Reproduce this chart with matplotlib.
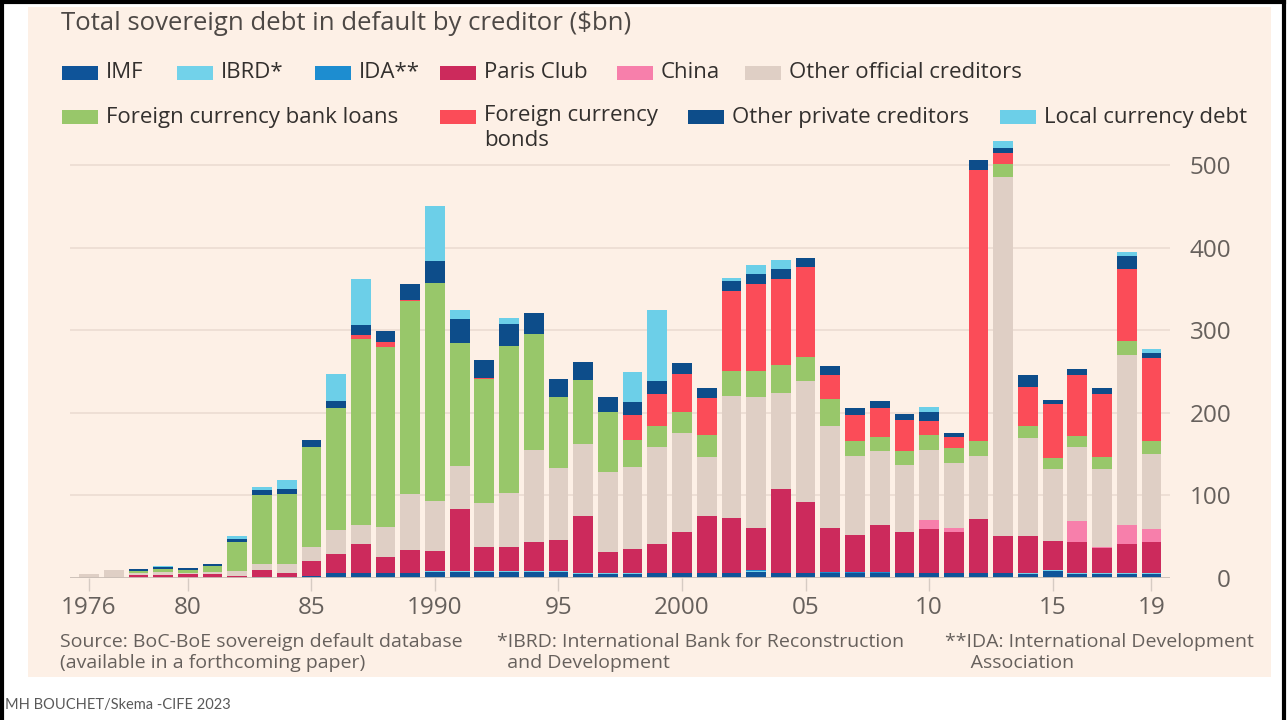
import matplotlib.pyplot as plt
from matplotlib.patches import Rectangle
from matplotlib.lines import Line2D
import numpy as np

plt.rcParams['font.family'] = ['Open Sans', 'DejaVu Sans']

# Sovereign debt in default, $bn, by creditor (1976-2019)
years = list(range(1976, 2020))

imf = [0, 0, 0.5, 0.5, 0.5, 0.5, 0.5, 1, 1, 3,
       6, 6, 6, 6, 7, 7, 7, 7, 7, 7,
       5, 5, 5, 5.5, 5.5, 5.5, 5.5, 7.5, 5.5, 5.5,
       5.5, 5.5, 5.5, 5.5, 5.5, 5.5, 5.5, 5.5, 5, 9,
       5, 5, 5, 5]
ibrd = [0, 0, 0, 0, 0, 0, 0, 0, 0, 0,
        0, 0, 0, 0, 1.5, 1.5, 1.5, 1.5, 1.5, 1.5,
        0.5, 0.5, 0.5, 0.5, 0.5, 0.5, 0.5, 1.5, 0.5, 0.5,
        1, 1, 1, 0.5, 0.5, 0.5, 0.5, 0.5, 0.5, 0.5,
        0.5, 0.5, 0.5, 0.5]
ida = [0, 0, 0, 0, 0, 0, 0, 0, 0, 0,
       0, 0, 0, 0, 0.5, 0.5, 0.5, 0.5, 0.5, 0.5,
       0.5, 0.5, 0.5, 0.5, 0.5, 0.5, 0.5, 0.5, 0.5, 0.5,
       0.5, 0.5, 0.5, 0.5, 0.5, 0.5, 0.5, 0.5, 0.5, 0.5,
       0.5, 0.5, 0.5, 0.5]
paris_club = [0, 0, 3, 3.5, 4, 4, 2, 9, 4.5, 18,
              23, 35, 20, 28, 24, 74, 29, 28, 35, 37,
              68.5, 25, 29, 35, 49.5, 68.5, 66.5, 51, 101, 85,
              53, 45.5, 57.5, 49, 53, 49, 64.5, 44, 45, 35,
              37, 30, 35.5, 37]
china = [0, 0, 0, 0, 0, 0, 0, 0, 0, 0,
         0, 0, 0, 0, 0, 0, 0, 0, 0, 0,
         0, 0, 0, 0, 0, 0, 0, 0, 0, 0,
         0, 0, 0, 0, 11, 5.5, 0, 0, 0, 0,
         25.5, 1, 23, 16.5]
other_official = [5, 10, 2.5, 3, 2, 3, 5.5, 7, 11, 16.5,
                  29, 23, 35.5, 68, 60, 53, 53, 66.5, 111, 87,
                  88, 97, 100, 117, 120, 72, 147, 158.5, 117, 147,
                  124, 95, 89, 81.5, 85, 78, 77, 434.5, 118, 86.5,
                  90, 95.5, 205.5, 90.5]
fx_bank_loans = [0, 0, 2.5, 4, 3, 7, 36, 84, 85, 121,
                 148, 225, 218, 233, 264, 148, 150, 177, 141, 86,
                 77, 72.5, 32, 25, 25, 26, 31, 32, 33, 29.5,
                 33, 18, 17, 17, 18, 18, 18, 16, 15, 14,
                 13.5, 14.5, 17, 15.5]
fx_bonds = [0, 0, 0, 0, 0, 0, 0, 0, 0, 0,
            0, 5, 6, 2, 0, 0, 1, 0, 0, 0,
            0, 0, 30, 39.5, 45.5, 45, 97, 105.5, 105, 108,
            29, 31.5, 35, 37, 16, 14, 328.5, 14, 47, 65.5,
            74, 76, 87, 101]
other_private = [0, 0, 2.5, 2, 2.5, 2, 3, 5, 6, 8,
                 8, 12, 13, 19, 27, 30, 22, 27, 25, 22,
                 22, 18.5, 16, 16, 14, 12, 11, 11, 12, 12,
                 11, 9, 9, 8, 12, 5, 11.5, 6, 15, 4,
                 7, 7, 15.5, 6.5]
local_currency = [0, 0, 0, 1, 0, 0, 3.5, 4, 11, 0,
                  33, 56, 0, 0, 67, 11, 0, 7, 0, 0,
                  0, 0, 37, 86, 0, 0, 4, 11, 11, 0,
                  0, 0, 0, 0, 6, 0, 0, 8, 0, 0,
                  0, 0, 5, 4]

series_names = ["IMF", "IBRD*", "IDA**", "Paris Club", "China",
                "Other official creditors", "Foreign currency bank loans",
                "Foreign currency\nbonds", "Other private creditors",
                "Local currency debt"]
series_values = [imf, ibrd, ida, paris_club, china, other_official,
                 fx_bank_loans, fx_bonds, other_private, local_currency]
series_colors = ["#0f5499", "#72d2ea", "#1d8dd0", "#cc2a5c", "#f77fab",
                 "#dfcfc5", "#98c76a", "#fb4c58", "#0d4d8a", "#6ccfe8"]

tick_years = [1976, 1980, 1985, 1990, 1995, 2000, 2005, 2010, 2015, 2019]
tick_text = ["1976", "80", "85", "1990", "95", "2000", "05", "10", "15", "19"]

BG = "#fdf0e6"
TXT = "#33302e"
GREY = "#66605c"

W, H = 1287, 720
fig = plt.figure(figsize=(W / 100, H / 100), dpi=100, facecolor="white")


def fx(px):
    return px / W


def fy(py):
    return 1 - py / H


# cream chart panel and slide frame
fig.add_artist(Rectangle((fx(28), fy(677)), fx(1271) - fx(28), fy(7) - fy(677),
                         transform=fig.transFigure, facecolor=BG, edgecolor="none", zorder=0))
for xs, ys in [([2, 2], [1, 720]), ([1284, 1284], [1, 720]), ([2, 1284], [2, 2])]:
    fig.add_artist(Line2D([fx(v) for v in xs], [fy(v) for v in ys],
                          transform=fig.transFigure, color="black", lw=3))

# plot area
ax = fig.add_axes([fx(70), fy(578), fx(1170) - fx(70), fy(132) - fy(578)])
ax.set_facecolor("none")
x = np.array(years) - 1976
bottom = np.zeros(len(years))
for vals, col in zip(series_values, series_colors):
    ax.bar(x, vals, bottom=bottom, width=0.8, color=col, linewidth=0, zorder=3)
    bottom += np.array(vals)

ax.set_xlim(-0.77, 43.75)
ax.set_ylim(0, 540)
for s in ax.spines.values():
    s.set_visible(False)
for g in range(100, 501, 100):
    ax.axhline(g, color="#ebdcd2", lw=1.2, zorder=1)
ax.axhline(0, color="#c9beb6", lw=1.3, zorder=4)

ax.set_xticks([y - 1976 for y in tick_years])
ax.set_xticklabels(tick_text)
ax.tick_params(axis="x", length=9, width=1, color="#d6cbc3", pad=4,
               labelsize=17.5, labelcolor=GREY)

ax.yaxis.tick_right()
ax.set_yticks(range(0, 501, 100))
ax.set_yticklabels([str(v) for v in range(0, 501, 100)])
ax.tick_params(axis="y", length=0, pad=44, labelsize=17.5, labelcolor=GREY)
for lab in ax.get_yticklabels():
    lab.set_horizontalalignment("right")

# title
fig.text(fx(61), fy(23), "Total sovereign debt in default by creditor ($bn)",
         fontsize=18.5, color="#4d4845", va="center", ha="left")

# legend, drawn by hand in two rows
legend_pos = [(62, 73), (177, 73), (315, 73), (440, 73), (617, 73), (745, 73),
              (62, 117), (440, 117), (688, 117), (1000, 117)]
for (lx, ly), name, col in zip(legend_pos, series_names, series_colors):
    fig.add_artist(Rectangle((fx(lx), fy(ly + 7)), fx(36), 14 / H,
                             transform=fig.transFigure, facecolor=col, edgecolor="none"))
    if "\n" in name:
        fig.text(fx(lx + 44), fy(ly - 12), name, fontsize=16, color=TXT,
                 va="top", ha="left", linespacing=1.25)
    else:
        fig.text(fx(lx + 44), fy(ly), name, fontsize=16, color=TXT,
                 va="center", ha="left")

# notes under the chart
notes = [(60, "Source: BoC-BoE sovereign default database\n(available in a forthcoming paper)"),
         (497, "*IBRD: International Bank for Reconstruction\n  and Development"),
         (945, "**IDA: International Development\n     Association")]
for nx, txt in notes:
    fig.text(fx(nx), fy(633), txt, fontsize=14, color=GREY, va="top", ha="left",
             linespacing=1.25)

fig.text(fx(5), fy(705), "MH BOUCHET/Skema -CIFE 2023", fontsize=10.5, color="#595959",
         va="center", ha="left", family=["Lato", "DejaVu Sans"])

fig.savefig("out.png", dpi=100, facecolor="white")
